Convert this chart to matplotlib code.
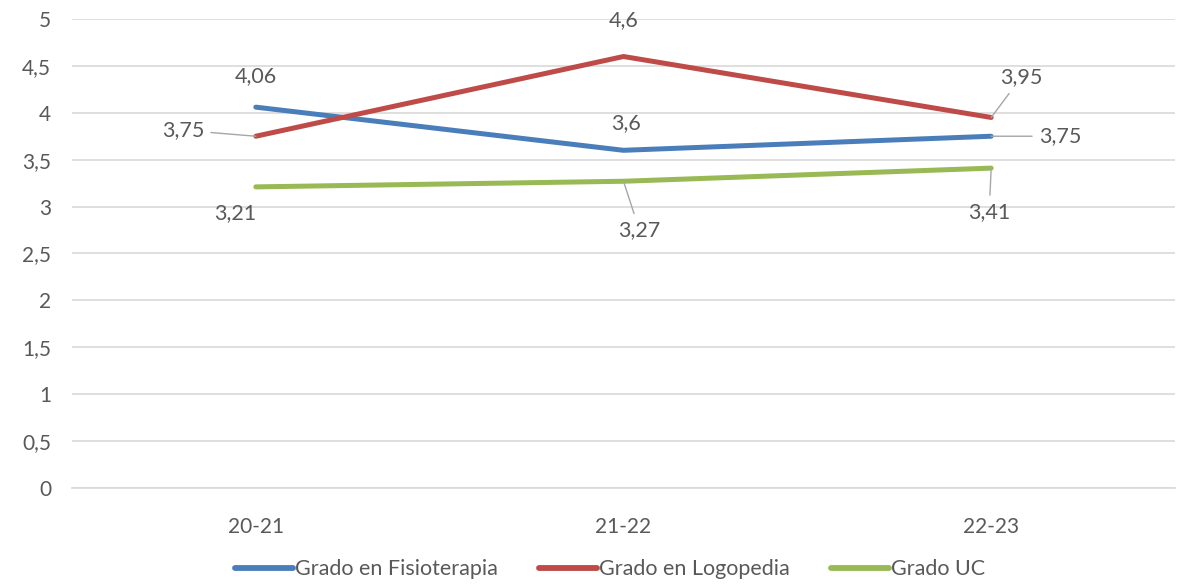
import matplotlib as mplt
mplt.use("Agg")
import matplotlib.pyplot as plt
from matplotlib.ticker import FuncFormatter, MultipleLocator

plt.rcParams['font.family'] = ['Lato', 'DejaVu Sans']

cursos = ["20-21", "21-22", "22-23"]
fisioterapia = [4.06, 3.6, 3.75]
logopedia = [3.75, 4.6, 3.95]
grado_uc = [3.21, 3.27, 3.41]

series = [
    ("Grado en Fisioterapia", fisioterapia, "#4a7ebb"),
    ("Grado en Logopedia", logopedia, "#be4b48"),
    ("Grado UC", grado_uc, "#98b954"),
]

# label offsets in pixels (dx, dy), and whether a leader line is drawn
label_pos = {
    "Grado en Fisioterapia": [((0, 31), False), ((2, 27), False), ((69, 0), True)],
    "Grado en Logopedia": [((-73, 6), True), ((0, 36), False), ((30, 40), True)],
    "Grado UC": [((-21, -26), False), ((16, -49), True), ((-2, -44), True)],
}

def comma(v):
    s = f"{v:g}"
    return s.replace(".", ",")

text_color = "#595959"
grid_color = "#d9d9d9"

fig = plt.figure(figsize=(11.84, 5.84), dpi=100)
ax = fig.add_axes([0.0608, 0.1644, 0.9316, 0.8031])

x = list(range(len(cursos)))
for name, vals, color in series:
    ax.plot(x, vals, color=color, lw=3.6, solid_capstyle="round", label=name, zorder=3)
    for i, v in enumerate(vals):
        (dx, dy), leader = label_pos[name][i]
        kw = {}
        if leader:
            kw["arrowprops"] = dict(arrowstyle="-", color="#a6a6a6", lw=1.0,
                                    shrinkA=3, shrinkB=0)
        ax.annotate(comma(v), xy=(i, v), xytext=(dx, dy), textcoords="offset pixels",
                    ha="center", va="center", fontsize=15.5, color=text_color, zorder=4, **kw)

ax.set_xlim(-0.5, 2.5)
ax.set_ylim(0, 5)
ax.yaxis.set_major_locator(MultipleLocator(0.5))
ax.yaxis.set_major_formatter(FuncFormatter(lambda v, p: comma(round(v, 1))))
ax.set_xticks(x)
ax.set_xticklabels(cursos)
ax.grid(axis="y", color=grid_color, lw=1.2)
ax.set_axisbelow(True)
for s in ["top", "right", "left"]:
    ax.spines[s].set_visible(False)
ax.spines["bottom"].set_color(grid_color)
ax.spines["bottom"].set_linewidth(1.2)
ax.tick_params(axis="both", length=0, labelsize=15, colors=text_color)
ax.tick_params(axis="y", pad=15)
ax.tick_params(axis="x", pad=21)

leg = fig.legend(loc="lower center", ncol=3, frameon=False, fontsize=15.5,
                 bbox_to_anchor=(0.515, -0.025), handlelength=2.7, handletextpad=0.1,
                 columnspacing=1.9)
for line in leg.get_lines():
    line.set_linewidth(4.2)
for t in leg.get_texts():
    t.set_color(text_color)

fig.savefig("out.png", dpi=100)
